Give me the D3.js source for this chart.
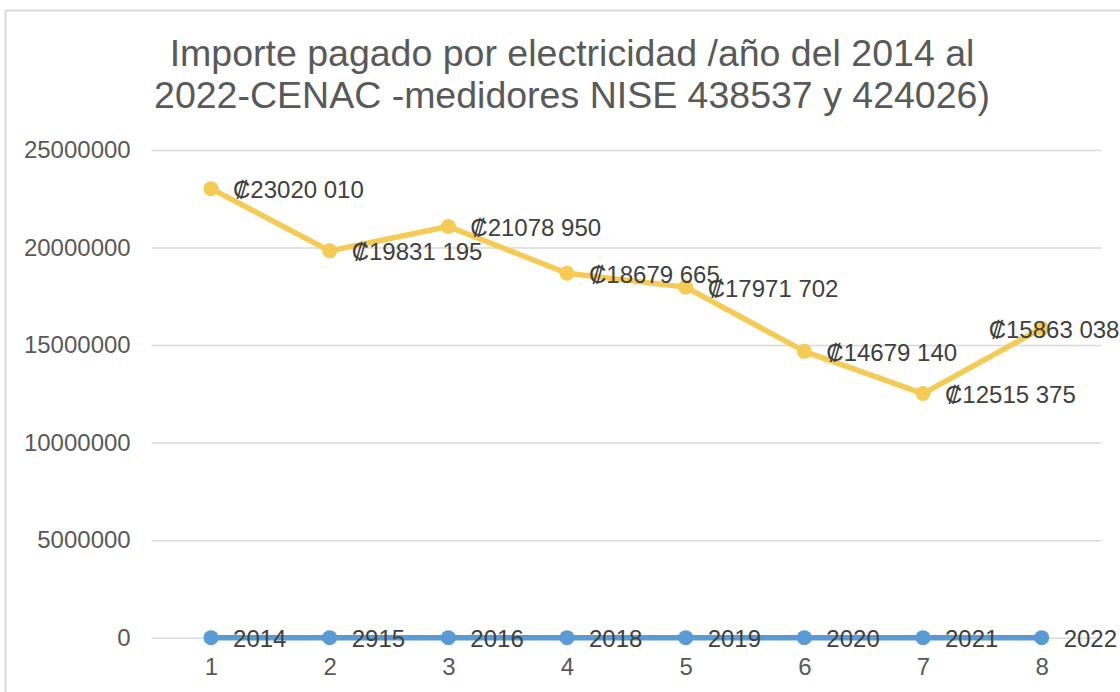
<!DOCTYPE html>
<html lang="es">
  <head>
    <meta charset="UTF-8" />
    <title>Importe pagado por electricidad</title>
    <style>
      body { margin: 0; background: #fff; }
      svg { display: block; font-family: "Liberation Sans", Arial, sans-serif; }
    </style>
  </head>
  <body>
    <svg id="svg" width="1120" height="692"></svg>

    <script src="https://d3js.org/d3.v7.min.js"></script>
    <script>
      const categories = ["1", "2", "3", "4", "5", "6", "7", "8"];
      const importe = [23020010, 19831195, 21078950, 18679665, 17971702, 14679140, 12515375, 15863038];
      const anios = [2014, 2915, 2016, 2018, 2019, 2020, 2021, 2022];
      const yTicks = [0, 5000000, 10000000, 15000000, 20000000, 25000000];
      const titleLines = [
        "Importe pagado por electricidad /año del 2014 al",
        "2022-CENAC -medidores NISE 438537 y 424026)",
      ];

      const svg = d3.select("#svg");
      const plot = { left: 151.7, right: 1101, top: 150, bottom: 637.7 };

      // chart area border (only top and left visible, rest is cropped)
      svg.append("rect")
        .attr("x", 5.5).attr("y", 10.5)
        .attr("width", 1130).attr("height", 700)
        .attr("fill", "#fff")
        .attr("stroke", "#d9d9d9")
        .attr("stroke-width", 2);

      const x = d3.scalePoint().domain(categories).range([plot.left, plot.right]).padding(0.5);
      const y = d3.scaleLinear().domain([0, 25000000]).range([plot.bottom, plot.top]);

      // title
      svg.append("text")
        .attr("x", 572).attr("y", 66)
        .attr("text-anchor", "middle")
        .attr("fill", "#595959")
        .style("font-size", "37.5px")
        .selectAll("tspan")
        .data(titleLines)
        .join("tspan")
        .attr("x", 572)
        .attr("dy", (d, i) => (i === 0 ? 0 : 42))
        .text((d) => d);

      // y axis: gridlines + labels
      const yAxis = svg.append("g")
        .attr("transform", `translate(${plot.left},0)`)
        .call(d3.axisLeft(y).tickValues(yTicks).tickFormat(d3.format("d"))
          .tickSize(-(plot.right - plot.left)).tickPadding(21));
      yAxis.select(".domain").remove();
      yAxis.selectAll("line").attr("stroke", "#d9d9d9").attr("stroke-width", 1.5);
      yAxis.selectAll("text")
        .attr("fill", "#595959")
        .style("font-size", "24px")
        .style("font-family", "'Liberation Sans', Arial, sans-serif");

      // x axis labels
      const xAxis = svg.append("g")
        .attr("transform", `translate(0,${plot.bottom})`)
        .call(d3.axisBottom(x).tickSize(0).tickPadding(20));
      xAxis.select(".domain").remove();
      xAxis.selectAll("text")
        .attr("fill", "#595959")
        .style("font-size", "24px")
        .style("font-family", "'Liberation Sans', Arial, sans-serif");

      const line = d3.line().x((d, i) => x(categories[i])).y((d) => y(d));

      function drawSeries(values, color) {
        const g = svg.append("g");
        g.append("path")
          .datum(values)
          .attr("d", line)
          .attr("fill", "none")
          .attr("stroke", color)
          .attr("stroke-width", 5.5)
          .attr("stroke-linejoin", "round")
          .attr("stroke-linecap", "round");
        g.selectAll("circle")
          .data(values)
          .join("circle")
          .attr("cx", (d, i) => x(categories[i]))
          .attr("cy", (d) => y(d))
          .attr("r", 7.5)
          .attr("fill", color);
        return g;
      }

      // last yellow label is pushed left so it stays inside the picture
      function drawLabels(values, fmt, shiftLast) {
        svg.append("g")
          .selectAll("text")
          .data(values)
          .join("text")
          .attr("x", (d, i) => x(categories[i]) + (shiftLast && i === values.length - 1 ? -53 : 22))
          .attr("y", (d) => y(d) + 1)
          .attr("dominant-baseline", "central")
          .attr("fill", "#404040")
          .style("font-size", "24px")
          .text(fmt);
      }

      const colonFmt = (d) => {
        const s = String(d);
        return "₡" + s.slice(0, s.length - 3) + " " + s.slice(-3);
      };

      drawSeries(importe, "#f5ca55");
      drawSeries(anios, "#5b9bd5");
      drawLabels(importe, colonFmt, true);
      drawLabels(anios, (d) => String(d), false);
    </script>
  </body>
</html>
